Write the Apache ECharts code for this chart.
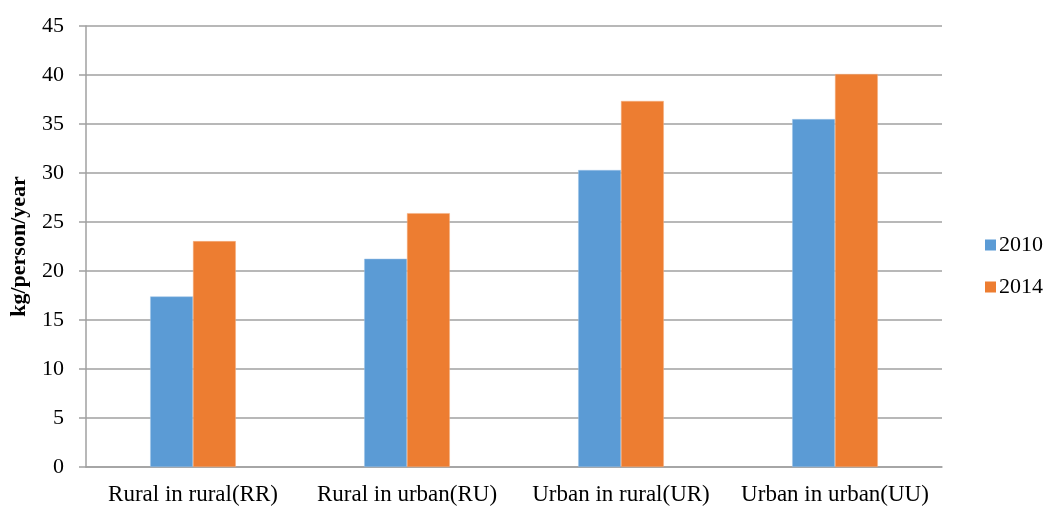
<!DOCTYPE html>
<html><head><meta charset="utf-8">
<script src="https://cdn.jsdelivr.net/npm/echarts@6/dist/echarts.min.js"></script>
<style>html,body{margin:0;padding:0;background:#fff}#c{width:1051px;height:506px}</style>
</head><body><div id="c"></div>
<script>
const categories = ["Rural in rural(RR)", "Rural in urban(RU)", "Urban in rural(UR)", "Urban in urban(UU)"];
const series2010 = [17.4, 21.25, 30.3, 35.5];
const series2014 = [23.05, 25.9, 37.35, 40.1];
const yTicks = {min: 0, max: 45, interval: 5};
const yName = "kg/person/year";

const font = "Liberation Serif";
const chart = echarts.init(document.getElementById('c'), null, {renderer: 'canvas'});
chart.setOption({
  animation: false,
  backgroundColor: '#fff',
  grid: {left: 85, right: 109, top: 26, bottom: 39, containLabel: false},
  legend: {
    orient: 'vertical', left: 980, top: 229,
    itemWidth: 11, itemHeight: 11, itemGap: 20, itemStyle: {borderWidth: 0},
    icon: 'rect',
    textStyle: {fontFamily: font, fontSize: 22, color: '#000', padding: [0, 0, 0, -2]},
    data: ['2010', '2014']
  },
  xAxis: {
    type: 'category', data: categories,
    axisLine: {lineStyle: {color: '#a0a0a0', width: 1.5}},
    axisTick: {show: false},
    axisLabel: {fontFamily: font, fontSize: 23, color: '#000', margin: 16, interval: 0, hideOverlap: false}
  },
  yAxis: {
    type: 'value', min: yTicks.min, max: yTicks.max, interval: yTicks.interval,
    name: yName, nameLocation: 'middle', nameGap: 56, nameRotate: 90,
    nameTextStyle: {fontFamily: font, fontSize: 22, fontWeight: 'bold', color: '#000'},
    axisLine: {show: true, lineStyle: {color: '#a0a0a0', width: 1.5}},
    axisTick: {show: true, length: 7, lineStyle: {color: '#a0a0a0', width: 1.5}},
    axisLabel: {fontFamily: font, fontSize: 22, color: '#000', margin: 22},
    splitLine: {lineStyle: {color: '#a0a0a0', width: 1.5}}
  },
  series: [
    {name: '2010', type: 'bar', data: series2010, barGap: '0%', barCategoryGap: '60%',
     itemStyle: {color: '#5b9bd5', borderColor: '#9cc3e6', borderWidth: 0.5}},
    {name: '2014', type: 'bar', data: series2014, barGap: '0%', barCategoryGap: '60%',
     itemStyle: {color: '#ed7d31', borderColor: '#f4b183', borderWidth: 0.5}}
  ]
});
</script></body></html>
